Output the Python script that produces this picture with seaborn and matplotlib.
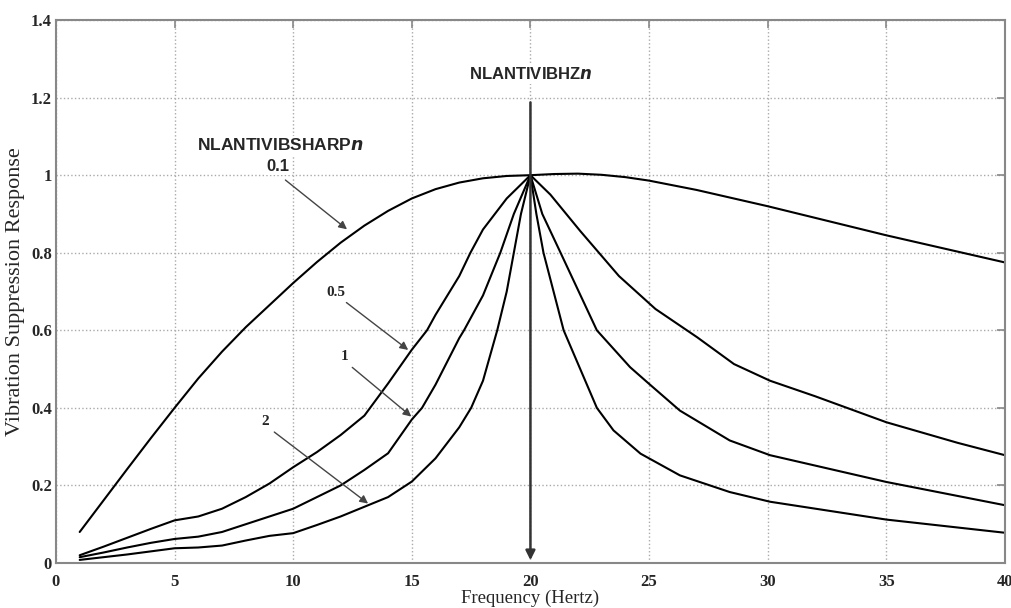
import pandas as pd
import matplotlib
matplotlib.use("Agg")
import matplotlib.pyplot as plt
import seaborn as sns

# curve data (frequency in Hz, response)
x_01 = [1, 2, 3, 4, 5, 6, 7, 8, 9, 10, 11, 12, 13, 14, 15, 16, 17, 18, 19, 20,
        21, 22, 23, 24, 25, 27, 30, 33, 35, 37, 40]
y_01 = [0.08, 0.161, 0.242, 0.322, 0.40, 0.476, 0.545, 0.608, 0.665, 0.722, 0.776, 0.826, 0.87,
        0.908, 0.94, 0.964, 0.981, 0.992, 0.998, 1.0,
        1.003, 1.004, 1.001, 0.995, 0.986, 0.962, 0.92, 0.875, 0.845, 0.817, 0.775]

x_05 = [1, 2, 3, 4, 5, 6, 7, 8, 9, 10, 11, 12, 13, 14, 15, 15.64, 16, 17, 17.47, 18, 19, 20,
        20.84, 22.1, 23.73, 25.27, 27.03, 28.58, 30.1, 32, 35, 38, 40]
y_05 = [0.02, 0.042, 0.065, 0.088, 0.11, 0.12, 0.14, 0.17, 0.205, 0.247, 0.286, 0.33, 0.38,
        0.463, 0.55, 0.6, 0.64, 0.74, 0.8, 0.86, 0.94, 1.0,
        0.95, 0.856, 0.74, 0.655, 0.582, 0.513, 0.47, 0.43, 0.363, 0.31, 0.278]

x_1 = [1, 2, 3, 4, 5, 6, 7, 8, 9, 10, 11, 12, 13, 14, 15, 15.43, 16, 17, 17.2, 18, 18.73, 19.3, 20,
       20.5, 21.27, 22.8, 24.2, 25, 26.3, 28.4, 30.1, 35, 40]
y_1 = [0.015, 0.027, 0.04, 0.052, 0.062, 0.068, 0.08, 0.1, 0.12, 0.14, 0.17, 0.2, 0.24, 0.283,
       0.37, 0.4, 0.46, 0.58, 0.6, 0.69, 0.8, 0.9, 1.0,
       0.9, 0.8, 0.6, 0.505, 0.462, 0.393, 0.316, 0.278, 0.209, 0.149]

x_2 = [1, 2, 3, 4, 5, 6, 7, 8, 9, 10, 11, 12, 13, 14, 15, 16, 17, 17.5, 18, 18.6, 19, 19.3, 19.6, 20,
       20.25, 20.55, 21.4, 22.8, 23.5, 24.64, 26.3, 28.4, 30.1, 35, 40]
y_2 = [0.008, 0.015, 0.022, 0.03, 0.038, 0.04, 0.045, 0.058, 0.07, 0.077, 0.098, 0.12, 0.145,
       0.17, 0.21, 0.27, 0.35, 0.4, 0.47, 0.6, 0.7, 0.8, 0.9, 1.0,
       0.9, 0.8, 0.6, 0.4, 0.342, 0.282, 0.226, 0.183, 0.158, 0.112, 0.078]

sharp_names = ["0.1", "0.5", "1", "2"]

frames = []
for name, xs, ys in zip(sharp_names, [x_01, x_05, x_1, x_2], [y_01, y_05, y_1, y_2]):
    frames.append(pd.DataFrame({"freq": xs, "resp": ys, "sharp": name}))
df = pd.concat(frames, ignore_index=True)

sns.set_style("white")
plt.rcParams["font.family"] = ["Liberation Serif", "DejaVu Serif"]

fig = plt.figure(figsize=(10.12, 6.08), dpi=100)
ax = fig.add_axes([0.0553, 0.074, 0.9377, 0.893])

sns.lineplot(data=df, x="freq", y="resp", hue="sharp", units="sharp", estimator=None,
             palette=["black"] * 4, linewidth=1.5, legend=False, ax=ax)

ax.set_xlim(0, 40)
ax.set_ylim(0, 1.4)
ax.set_xticks([0, 5, 10, 15, 20, 25, 30, 35, 40])
ax.set_xticklabels(["0", "5", "10", "15", "20", "25", "30", "35", "40"])
ax.set_yticks([0, 0.2, 0.4, 0.6, 0.8, 1.0, 1.2, 1.4])
ax.set_yticklabels(["0", "0.2", "0.4", "0.6", "0.8", "1", "1.2", "1.4"])
ax.tick_params(direction="in", length=6, width=1.2, color="#888888",
               top=True, right=True, labelsize=12)
ax.tick_params(axis="x", pad=8)
ax.tick_params(axis="y", pad=3)
for lab in ax.get_xticklabels() + ax.get_yticklabels():
    lab.set_fontweight("bold")
ax.grid(True, linestyle=":", color="#aaaaaa", linewidth=1.0)
for sp in ax.spines.values():
    sp.set_color("#888888")
    sp.set_linewidth(1.5)

ax.set_xlabel("Frequency (Hertz)", fontsize=13.5, labelpad=0)
ax.set_ylabel("Vibration Suppression Response", fontsize=16, labelpad=4)

# annotations
sans = ["Liberation Sans", "DejaVu Sans"]
white = dict(facecolor="white", edgecolor="none", pad=1)
ax.text(20, 1.26, r"NLANTIVIBHZ$\mathbfit{n}$", ha="center", va="center",
        fontsize=12, fontweight="bold", family=sans, bbox=white)
ax.annotate("", xy=(20, 0.0), xytext=(20, 1.195),
            arrowprops=dict(arrowstyle="-|>", color="#333333", lw=1.8, mutation_scale=14))

ax.text(9.45, 1.077, r"NLANTIVIBSHARP$\mathbfit{n}$", ha="center", va="center",
        fontsize=12.5, fontweight="bold", family=sans, bbox=white)
ax.text(9.35, 1.023, "0.1", ha="center", va="center",
        fontsize=12, fontweight="bold", family=sans, bbox=white)

arrow = dict(arrowstyle="-|>", color="#444444", lw=1.0, mutation_scale=12)
ax.annotate("", xy=(12.36, 0.856), xytext=(9.58, 0.992), arrowprops=arrow)

ax.text(11.8, 0.697, "0.5", ha="center", va="center", fontsize=11, fontweight="bold")
ax.annotate("", xy=(14.94, 0.545), xytext=(12.15, 0.676), arrowprops=arrow)

ax.text(12.15, 0.532, "1", ha="center", va="center", fontsize=11, fontweight="bold")
ax.annotate("", xy=(15.07, 0.373), xytext=(12.4, 0.509), arrowprops=arrow)

ax.text(8.82, 0.365, "2", ha="center", va="center", fontsize=11, fontweight="bold")
ax.annotate("", xy=(13.25, 0.149), xytext=(9.11, 0.342), arrowprops=arrow)

fig.savefig("out.png", dpi=100)
